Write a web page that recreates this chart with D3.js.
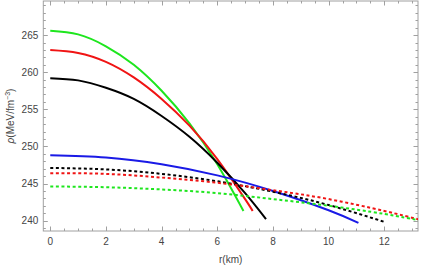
<!DOCTYPE html>
<html>
<head>
<meta charset="utf-8">
<script src="https://cdn.jsdelivr.net/npm/d3@7"></script>
<style>
  body { margin: 0; background: #fff; }
  svg { display: block; }
  text { font-family: "Liberation Sans", Arial, sans-serif; }
</style>
</head>
<body>
<div id="chart"></div>
<script>
// data: [r (km), rho (MeV/fm^-3)]
var greenSolid = [[0,265.6],[1,265.1],[2,263.5],[3,261.0],[4,257.5],[5,253.1],[6,247.6],[6.94,241.3]]
var redSolid   = [[0,263.0],[1,262.6],[2,261.4],[3,259.3],[4,256.4],[5,252.8],[6,248.3],[7,242.9],[7.27,241.3]]
var blackSolid = [[0,259.2],[1,258.9],[2,257.9],[3,256.4],[4,254.1],[5,251.3],[6,247.8],[7,243.7],[7.75,240.2]]
var blueSolid  = [[0,248.8],[2,248.5],[4,247.6],[6,246.1],[8,244.0],[10,241.4],[11.07,239.7]]
var blackDash  = [[0,247.1],[2,246.9],[4,246.3],[6,245.3],[8,243.9],[10,242.1],[12.03,239.8]]
var redDash    = [[0,246.4],[2,246.3],[4,245.8],[6,245.1],[8,244.1],[10,242.9],[12,241.3],[13.3,240.1]]
var greenDash  = [[0,244.6],[2,244.5],[4,244.2],[6,243.7],[8,242.9],[10,242.0],[12,240.9],[13.3,240.0]]

var xTicks = [0, 2, 4, 6, 8, 10, 12]
var yTicks = [240, 245, 250, 255, 260, 265]

var series = [
  {data: greenSolid, color: '#1ee61e', dash: null},
  {data: redSolid,   color: '#f01414', dash: null},
  {data: blackSolid, color: '#000000', dash: null},
  {data: blueSolid,  color: '#1a1ae6', dash: null},
  {data: blackDash,  color: '#000000', dash: '3,2.6'},
  {data: redDash,    color: '#f01414', dash: '3,2.6'},
  {data: greenDash,  color: '#1ee61e', dash: '3,2.6'}
]

var W = 421, H = 266
var pLeft = 43.3, pRight = 418, pTop = 1, pBottom = 231

var x = d3.scaleLinear().domain([-0.25, 13.21]).range([pLeft, pRight])
var y = d3.scaleLinear().domain([238.6, 269.6]).range([pBottom, pTop])

var svg = d3.select('#chart').append('svg')
  .attr('width', W)
  .attr('height', H)

svg.append('clipPath').attr('id', 'plot')
  .append('rect')
  .attr('x', pLeft).attr('y', pTop)
  .attr('width', pRight - pLeft).attr('height', pBottom - pTop)

var frameColor = '#a0a0a0'

// frame
svg.append('rect')
  .attr('x', pLeft).attr('y', pTop)
  .attr('width', pRight - pLeft).attr('height', pBottom - pTop)
  .attr('fill', 'none')
  .attr('stroke', frameColor)
  .attr('stroke-width', 1)

// ticks (inward, on all four sides)
var xMinor = d3.range(0, 13.01, 0.5)
var yMinor = d3.range(239, 269.01, 1)
var ticks = svg.append('g').attr('stroke', frameColor).attr('stroke-width', 1)

xMinor.forEach(function(v) {
  var major = xTicks.indexOf(v) >= 0
  var len = major ? 4.5 : 2.5
  var px = Math.round(x(v)) + 0.5
  ticks.append('line').attr('x1', px).attr('x2', px).attr('y1', pBottom).attr('y2', pBottom - len)
  ticks.append('line').attr('x1', px).attr('x2', px).attr('y1', pTop).attr('y2', pTop + len)
})
yMinor.forEach(function(v) {
  var major = yTicks.indexOf(v) >= 0
  var len = major ? 4.5 : 2.5
  var py = Math.round(y(v)) + 0.5
  ticks.append('line').attr('y1', py).attr('y2', py).attr('x1', pLeft).attr('x2', pLeft + len)
  ticks.append('line').attr('y1', py).attr('y2', py).attr('x1', pRight).attr('x2', pRight - len)
})

// tick labels
svg.append('g').selectAll('text')
  .data(xTicks).enter()
  .append('text')
  .attr('x', function(d) { return x(d) })
  .attr('y', pBottom + 14)
  .attr('text-anchor', 'middle')
  .attr('font-size', 10)
  .attr('fill', '#444')
  .text(function(d) { return d })

svg.append('g').selectAll('text')
  .data(yTicks).enter()
  .append('text')
  .attr('x', pLeft - 5)
  .attr('y', function(d) { return y(d) + 3.5 })
  .attr('text-anchor', 'end')
  .attr('font-size', 10)
  .attr('fill', '#444')
  .text(function(d) { return d })

// axis titles
svg.append('text')
  .attr('x', (pLeft + pRight) / 2)
  .attr('y', 263)
  .attr('text-anchor', 'middle')
  .attr('font-size', 10)
  .attr('fill', '#444')
  .text('r(km)')

var yt = svg.append('text')
  .attr('transform', 'translate(14,' + ((pTop + pBottom) / 2) + ') rotate(-90)')
  .attr('text-anchor', 'middle')
  .attr('font-size', 10)
  .attr('fill', '#444')
yt.append('tspan').attr('font-style', 'italic').text('ρ')
yt.append('tspan').text('(MeV/fm')
yt.append('tspan').attr('font-size', 7).attr('dy', -4).text('−3')
yt.append('tspan').attr('dy', 4).text(')')

// curves
var line = d3.line()
  .x(function(d) { return x(d[0]) })
  .y(function(d) { return y(d[1]) })
  .curve(d3.curveNatural)

var g = svg.append('g').attr('clip-path', 'url(#plot)')
g.selectAll('path')
  .data(series).enter()
  .append('path')
  .attr('d', function(d) { return line(d.data) })
  .attr('fill', 'none')
  .attr('stroke', function(d) { return d.color })
  .attr('stroke-width', 2)
  .attr('stroke-dasharray', function(d) { return d.dash })
</script>
</body>
</html>
